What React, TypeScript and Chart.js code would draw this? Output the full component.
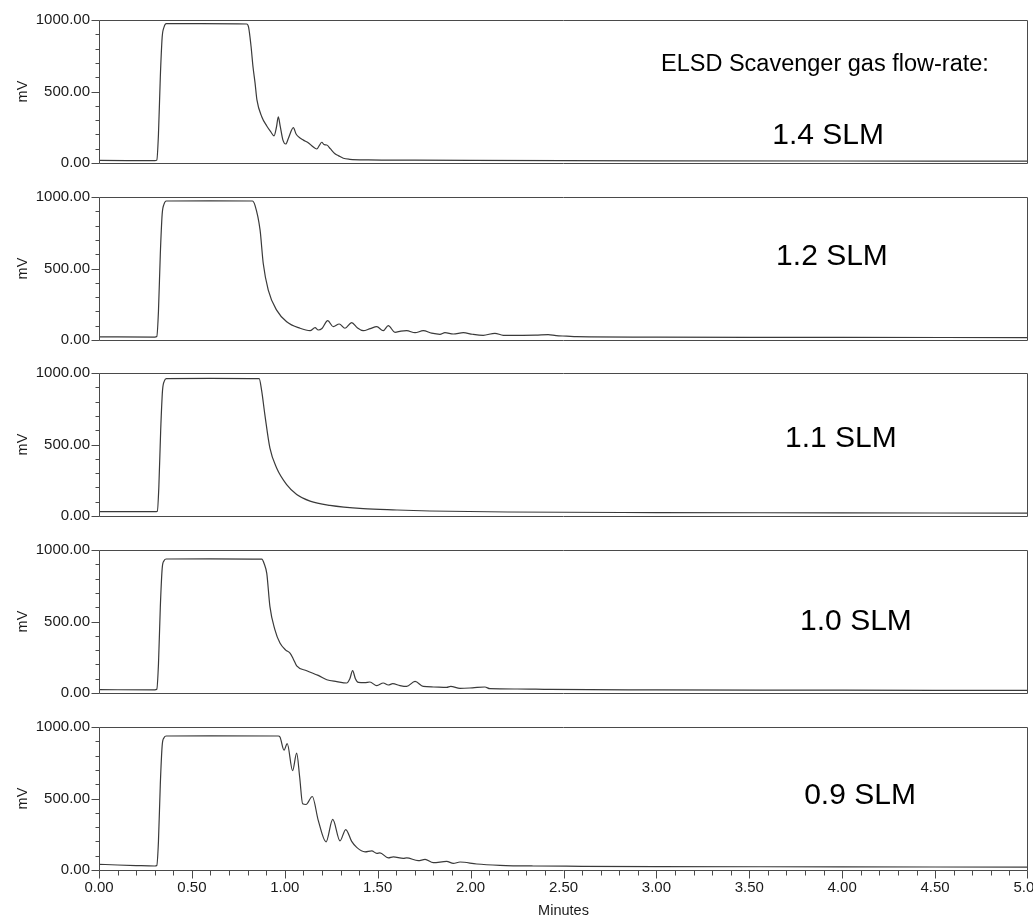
import React, { useEffect, useRef } from 'react';
import { Chart, registerables } from 'chart.js';

Chart.register(...registerables);

// ---------- DATA ----------
const X_MIN = 0;
const X_MAX = 5;
const X_LABEL_STEP = 0.5;
const X_MINOR_STEP = 0.1;
const Y_MIN = 0;
const Y_MAX = 1000;
const Y_LABEL_STEP = 500;
const Y_MINOR_STEP = 100;

const HEADER_TEXT = 'ELSD Scavenger gas flow-rate:';
const HEADER_POS = [3.907, 692];

const PANEL_LABELS = ['1.4 SLM', '1.2 SLM', '1.1 SLM', '1.0 SLM', '0.9 SLM'];
const PANEL_LABEL_X = [3.924, 3.945, 3.993, 4.074, 4.096];
const PANEL_LABEL_Y = [189, 580, 538, 496, 517];

// 1.4 SLM
const T_14 = [0, 0.15, 0.30, 0.311, 0.32, 0.33, 0.34, 0.35, 0.362, 0.55, 0.795, 0.805, 0.818, 0.829, 0.840, 0.850, 0.876, 0.903, 0.924, 0.942, 0.955, 0.965, 0.975, 0.99, 1.005, 1.02, 1.046, 1.06, 1.073, 1.10, 1.126, 1.15, 1.172, 1.187, 1.199, 1.212, 1.226, 1.245, 1.27, 1.29, 1.315, 1.35, 1.45, 1.7, 2.0, 2.5, 3.0, 4.0, 5.0];
const V_14 = [18, 17, 16, 20, 200, 600, 880, 950, 974, 975, 972, 950, 820, 671, 559, 441, 324, 259, 219, 190, 250, 322, 260, 160, 133, 175, 247, 205, 184, 160, 142, 115, 98, 125, 145, 128, 126, 100, 65, 50, 33, 26, 22, 20, 18, 16, 15, 14, 13];

// 1.2 SLM
const T_12 = [0, 0.30, 0.311, 0.32, 0.33, 0.34, 0.35, 0.362, 0.60, 0.825, 0.84, 0.867, 0.884, 0.911, 0.956, 1.010, 1.082, 1.136, 1.163, 1.180, 1.20, 1.231, 1.261, 1.293, 1.324, 1.360, 1.39, 1.422, 1.46, 1.495, 1.530, 1.557, 1.593, 1.625, 1.656, 1.701, 1.745, 1.79, 1.835, 1.862, 1.907, 1.961, 2.01, 2.068, 2.131, 2.176, 2.25, 2.35, 2.418, 2.46, 2.517, 2.571, 3.0, 4.0, 5.0];
const V_12 = [22, 20, 24, 200, 600, 880, 950, 972, 973, 972, 940, 768, 535, 349, 209, 128, 82, 65, 86, 70, 80, 135, 93, 112, 82, 121, 85, 65, 80, 93, 65, 100, 54, 62, 65, 51, 65, 48, 40, 51, 42, 51, 40, 33, 47, 33, 33, 34, 38, 30, 27, 23, 20, 18, 17];

// 1.1 SLM
const T_11 = [0, 0.30, 0.314, 0.322, 0.332, 0.342, 0.352, 0.362, 0.60, 0.862, 0.875, 0.893, 0.920, 0.956, 1.010, 1.064, 1.136, 1.243, 1.422, 1.602, 1.781, 2.2, 3.0, 4.0, 5.0];
const V_11 = [30, 30, 34, 200, 600, 880, 945, 961, 962, 960, 880, 706, 475, 336, 220, 151, 104, 74, 51, 42, 35, 28, 24, 22, 20];

// 1.0 SLM
const T_10 = [0, 0.30, 0.311, 0.32, 0.33, 0.34, 0.35, 0.362, 0.60, 0.876, 0.890, 0.903, 0.920, 0.947, 0.974, 1.005, 1.028, 1.045, 1.064, 1.118, 1.180, 1.226, 1.28, 1.333, 1.350, 1.365, 1.380, 1.396, 1.43, 1.458, 1.495, 1.530, 1.557, 1.581, 1.62, 1.656, 1.701, 1.745, 1.80, 1.871, 1.893, 1.943, 2.01, 2.077, 2.104, 2.25, 2.427, 3.0, 4.0, 5.0];
const V_10 = [23, 22, 26, 200, 600, 870, 925, 937, 938, 936, 900, 837, 604, 442, 349, 300, 279, 240, 190, 156, 123, 93, 80, 70, 100, 156, 100, 74, 72, 77, 51, 70, 56, 65, 52, 46, 81, 46, 42, 39, 46, 32, 36, 42, 30, 28, 25, 22, 20, 18];

// 0.9 SLM
const T_09 = [0, 0.10, 0.20, 0.30, 0.311, 0.32, 0.33, 0.34, 0.35, 0.362, 0.60, 0.965, 0.974, 0.996, 1.013, 1.042, 1.064, 1.080, 1.096, 1.114, 1.148, 1.180, 1.222, 1.258, 1.297, 1.328, 1.36, 1.387, 1.432, 1.468, 1.495, 1.512, 1.557, 1.584, 1.638, 1.656, 1.718, 1.755, 1.799, 1.871, 1.907, 1.943, 2.033, 2.158, 2.337, 2.6, 3.0, 4.0, 5.0];
const V_09 = [40, 35, 31, 28, 32, 200, 600, 870, 925, 937, 938, 937, 930, 838, 884, 694, 817, 650, 463, 458, 514, 347, 197, 354, 204, 283, 200, 158, 127, 134, 116, 120, 85, 92, 81, 85, 65, 74, 51, 60, 46, 56, 42, 33, 28, 26, 24, 22, 20];

const SERIES_TIMES = [T_14, T_12, T_11, T_10, T_09];
const SERIES_VALUES = [V_14, V_12, V_11, V_10, V_09];

// ---------- STYLE / LAYOUT ----------
const FONT = '"Liberation Sans", Arial, Helvetica, sans-serif';
const AXIS_COLOR = '#4a4a4a';
const LINE_COLOR = '#3a3a3a';
const TEXT_COLOR = '#1a1a1a';
const PANEL_TOPS = [20, 197, 373, 550, 727];
const PLOT_H = 143;
const PAD_TOP = 10;
const AXIS_LEFT_W = 99;
const PAD_RIGHT = 5;
const PAGE_W = 1033;
const PAGE_H = 917;

const framePlugin = {
  id: 'frame',
  afterDraw(chart: any, _args: any, opts: any) {
    const { ctx, chartArea } = chart;
    const xs = chart.scales.x;
    const ys = chart.scales.y;
    const L = Math.round(chartArea.left) + 0.5;
    const R = Math.round(chartArea.right) - 0.5;
    const T = Math.round(chartArea.top) + 0.5;
    const B = Math.round(chartArea.bottom) + 0.5;
    ctx.save();
    ctx.strokeStyle = AXIS_COLOR;
    ctx.lineWidth = 1;
    ctx.beginPath();
    ctx.rect(L, T, R - L, B - T);
    for (let v = Y_MIN; v <= Y_MAX + 1e-9; v += Y_MINOR_STEP) {
      const py = Math.round(ys.getPixelForValue(v)) + 0.5;
      const len = Math.abs(v % Y_LABEL_STEP) < 1e-9 ? 8 : 4;
      ctx.moveTo(L - len, py);
      ctx.lineTo(L, py);
    }
    if (opts && opts.xTicks) {
      const n = Math.round((X_MAX - X_MIN) / X_MINOR_STEP);
      const every = Math.round(X_LABEL_STEP / X_MINOR_STEP);
      for (let i = 0; i <= n; i++) {
        const v = X_MIN + i * X_MINOR_STEP;
        const px = Math.min(Math.round(xs.getPixelForValue(v)) + 0.5, R);
        const len = i % every === 0 ? 8 : 5;
        ctx.moveTo(px, B);
        ctx.lineTo(px, B + len);
      }
    }
    ctx.stroke();
    const texts = (opts && opts.texts) || [];
    ctx.fillStyle = '#000';
    ctx.textAlign = 'center';
    ctx.textBaseline = 'middle';
    for (const t of texts) {
      ctx.font = `${t.size}px ${FONT}`;
      ctx.fillText(t.text, xs.getPixelForValue(t.x), ys.getPixelForValue(t.y));
    }
    ctx.restore();
  },
};

function Panel({ index }: { index: number }) {
  const ref = useRef<HTMLCanvasElement | null>(null);
  const isBottom = index === PANEL_TOPS.length - 1;
  const top = PANEL_TOPS[index] - PAD_TOP;
  const height = isBottom ? PAGE_H - top : PLOT_H + 2 * PAD_TOP;

  useEffect(() => {
    if (!ref.current) return;
    const times = SERIES_TIMES[index];
    const values = SERIES_VALUES[index];
    const n = Math.min(times.length, values.length);
    const points = [] as { x: number; y: number }[];
    for (let i = 0; i < n; i++) points.push({ x: times[i], y: values[i] });

    const texts = [] as any[];
    if (index === 0) texts.push({ text: HEADER_TEXT, x: HEADER_POS[0], y: HEADER_POS[1], size: 23.5 });
    texts.push({ text: PANEL_LABELS[index], x: PANEL_LABEL_X[index], y: PANEL_LABEL_Y[index], size: 30 });

    const tickFont = { family: FONT, size: 15 };
    const chart = new Chart(ref.current, {
      type: 'line',
      data: {
        datasets: [
          {
            data: points,
            borderColor: LINE_COLOR,
            borderWidth: 1.2,
            pointRadius: 0,
            fill: false,
            cubicInterpolationMode: 'monotone',
          },
        ],
      },
      options: {
        animation: false,
        responsive: true,
        maintainAspectRatio: false,
        devicePixelRatio: 1,
        layout: { padding: { top: PAD_TOP, bottom: isBottom ? 0 : PAD_TOP, left: 0, right: PAD_RIGHT } },
        plugins: {
          legend: { display: false },
          tooltip: { enabled: false },
          frame: { xTicks: isBottom, texts },
        } as any,
        scales: {
          x: {
            type: 'linear',
            min: X_MIN,
            max: X_MAX,
            display: isBottom,
            afterFit: (s: any) => {
              if (isBottom) {
                s.height = PAGE_H - (PANEL_TOPS[index] + PLOT_H);
              }
              s.paddingLeft = 0;
              s.paddingRight = 0;
            },
            ticks: {
              stepSize: X_LABEL_STEP,
              autoSkip: false,
              maxRotation: 0,
              padding: 9,
              color: TEXT_COLOR,
              font: tickFont,
              callback: (v: any) => Number(v).toFixed(2),
            },
            grid: { display: false, drawTicks: false },
            border: { display: false },
            title: {
              display: true,
              text: 'Minutes',
              color: TEXT_COLOR,
              font: { family: FONT, size: 14.5, lineHeight: 0.8 },
              padding: { top: 0, bottom: 0 },
            },
          },
          y: {
            min: Y_MIN,
            max: Y_MAX,
            afterFit: (s: any) => {
              s.width = AXIS_LEFT_W;
              s.paddingTop = 0;
              s.paddingBottom = 0;
            },
            ticks: {
              stepSize: Y_LABEL_STEP,
              padding: 9,
              color: TEXT_COLOR,
              font: tickFont,
              callback: (v: any) => Number(v).toFixed(2),
            },
            grid: { display: false, drawTicks: false },
            border: { display: false },
            title: {
              display: true,
              text: 'mV',
              color: TEXT_COLOR,
              font: { family: FONT, size: 14.5 },
              padding: { top: 14, bottom: 0 },
            },
          },
        },
      } as any,
      plugins: [framePlugin as any],
    });
    return () => chart.destroy();
  }, [index]);

  return (
    <div style={{ position: 'absolute', left: 0, top, width: PAGE_W, height }}>
      <canvas ref={ref} />
    </div>
  );
}

export default function App() {
  return (
    <div
      style={{
        position: 'absolute',
        left: 0,
        top: 0,
        width: PAGE_W,
        height: PAGE_H,
        background: '#fff',
        overflow: 'hidden',
      }}
    >
      {PANEL_TOPS.map((_, i) => (
        <Panel key={i} index={i} />
      ))}
    </div>
  );
}
